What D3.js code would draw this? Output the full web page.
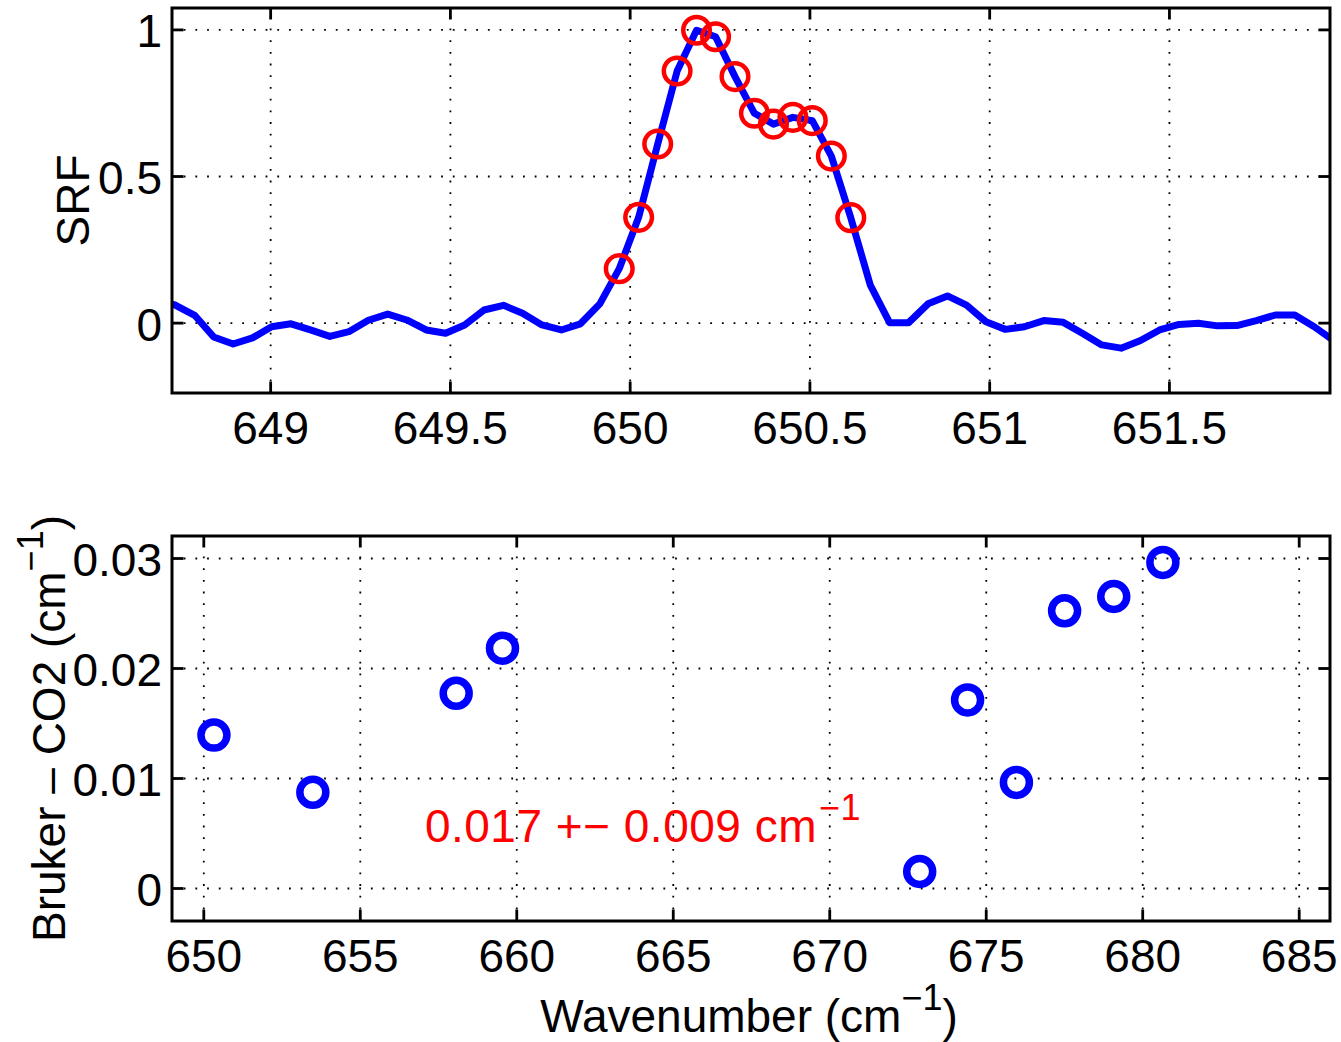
<!DOCTYPE html>
<html>
<head>
<meta charset="utf-8">
<script src="https://cdn.jsdelivr.net/npm/d3@7"></script>
<style>
  html, body { margin: 0; padding: 0; background: #fff; }
  svg text { font-family: "Liberation Sans", Arial, Helvetica, sans-serif; }
</style>
</head>
<body>
<svg id="chart" width="1341" height="1042"></svg>
<script>
// ---- Spectral response function (top panel) ----
const srfWavenumber = [
  648.682, 648.736, 648.790, 648.843, 648.897, 648.951, 649.004, 649.058, 649.112, 649.166,
  649.219, 649.273, 649.327, 649.380, 649.434, 649.488, 649.541, 649.595, 649.649, 649.702,
  649.756, 649.810, 649.863, 649.917, 649.971, 650.025, 650.078, 650.132, 650.186, 650.239,
  650.293, 650.347, 650.400, 650.454, 650.508, 650.561, 650.615, 650.669, 650.723, 650.776,
  650.830, 650.884, 650.937, 650.991, 651.045, 651.098, 651.152, 651.206, 651.259, 651.313,
  651.367, 651.421, 651.474, 651.528, 651.582, 651.635, 651.689, 651.743, 651.796, 651.850,
  651.904, 651.957
];
const srfValue = [
  0.075, 0.060, 0.025, -0.049, -0.073, -0.052, -0.014, -0.004, -0.025, -0.047,
  -0.031, 0.008, 0.029, 0.009, -0.025, -0.036, -0.008, 0.043, 0.059, 0.032,
  -0.008, -0.025, -0.004, 0.064, 0.184, 0.359, 0.609, 0.858, 0.997, 0.975,
  0.839, 0.714, 0.677, 0.700, 0.689, 0.568, 0.358, 0.129, 0.000, 0.000,
  0.064, 0.091, 0.060, 0.003, -0.023, -0.014, 0.007, 0.001, -0.036, -0.076,
  -0.087, -0.061, -0.025, -0.006, -0.002, -0.011, -0.010, 0.007, 0.026, 0.026,
  -0.014, -0.060
];
// sampled channel points marked with circles
const channelWavenumber = [
  649.971, 650.025, 650.078, 650.132, 650.186, 650.239, 650.293,
  650.347, 650.400, 650.454, 650.508, 650.561, 650.615
];
const channelValue = [
  0.184, 0.359, 0.609, 0.858, 0.997, 0.975, 0.839,
  0.714, 0.677, 0.700, 0.689, 0.568, 0.358
];
const topXTicks = [649, 649.5, 650, 650.5, 651, 651.5];
const topXLabels = ["649", "649.5", "650", "650.5", "651", "651.5"];
const topYTicks = [0, 0.5, 1];
const topYLabels = ["0", "0.5", "1"];

// ---- Bruker minus CO2 line positions (bottom panel) ----
const lineWavenumber = [650.34, 653.50, 658.08, 659.56, 672.89, 674.42, 675.98, 677.52, 679.09, 680.66];
const lineOffset = [0.0139, 0.0087, 0.0177, 0.0218, 0.0015, 0.0171, 0.0096, 0.0252, 0.0265, 0.0296];
const botXTicks = [650, 655, 660, 665, 670, 675, 680, 685];
const botXLabels = ["650", "655", "660", "665", "670", "675", "680", "685"];
const botYTicks = [0, 0.01, 0.02, 0.03];
const botYLabels = ["0", "0.01", "0.02", "0.03"];

const FONT = 46;
const SUP = 36;
const BLUE = "#0000ff";
const RED = "#ff0000";

const svg = d3.select("#chart");
svg.append("rect").attr("width", 1341).attr("height", 1042).attr("fill", "#fff");

const topBox = { left: 172, right: 1330, top: 8, bottom: 393 };
const botBox = { left: 172, right: 1330, top: 536, bottom: 921 };

const xTop = d3.scaleLinear().domain([648.727, 651.948]).range([topBox.left, topBox.right]);
const yTop = d3.scaleLinear().domain([-0.24, 1.073]).range([topBox.bottom, topBox.top]);
const xBot = d3.scaleLinear().domain([649, 686]).range([botBox.left, botBox.right]);
const yBot = d3.scaleLinear().domain([-0.003, 0.032]).range([botBox.bottom, botBox.top]);

function styleAxis(sel) {
  sel.attr("font-size", FONT)
     .attr("font-family", '"Liberation Sans", Arial, Helvetica, sans-serif');
  sel.selectAll(".domain").remove();
  sel.selectAll(".tick line").attr("stroke", "#000").attr("stroke-width", 2.8);
  sel.selectAll(".tick text").attr("fill", "#000");
}

function drawGrid(g, box, x, y, xTicks, yTicks) {
  const h = box.bottom - box.top, w = box.right - box.left;
  const gx = g.append("g").attr("transform", `translate(0,${box.bottom})`)
    .call(d3.axisBottom(x).tickValues(xTicks).tickSize(-h).tickFormat(""));
  const gy = g.append("g").attr("transform", `translate(${box.left},0)`)
    .call(d3.axisLeft(y).tickValues(yTicks).tickSize(-w).tickFormat(""));
  [gx, gy].forEach(s => {
    s.selectAll(".domain").remove();
    s.selectAll(".tick line")
      .attr("stroke", "#000")
      .attr("stroke-width", 1.8)
      .attr("stroke-dasharray", "1.8,9.9");
  });
}

function drawAxes(g, box, x, y, xTicks, xLabels, yTicks, yLabels) {
  const T = 11.5;
  g.append("g").attr("transform", `translate(0,${box.bottom})`)
    .call(d3.axisBottom(x).tickValues(xTicks).tickSizeInner(-T).tickSizeOuter(0)
      .tickPadding(18.5).tickFormat((d, i) => xLabels[i]))
    .call(styleAxis);
  g.append("g").attr("transform", `translate(0,${box.top})`)
    .call(d3.axisTop(x).tickValues(xTicks).tickSizeInner(-T).tickSizeOuter(0).tickFormat(""))
    .call(styleAxis);
  g.append("g").attr("transform", `translate(${box.left},0)`)
    .call(d3.axisLeft(y).tickValues(yTicks).tickSizeInner(-T).tickSizeOuter(0)
      .tickPadding(10).tickFormat((d, i) => yLabels[i]))
    .call(styleAxis)
    .selectAll(".tick text").attr("dy", "0.38em");
  g.append("g").attr("transform", `translate(${box.right},0)`)
    .call(d3.axisRight(y).tickValues(yTicks).tickSizeInner(-T).tickSizeOuter(0).tickFormat(""))
    .call(styleAxis);
  g.append("rect")
    .attr("x", box.left).attr("y", box.top)
    .attr("width", box.right - box.left).attr("height", box.bottom - box.top)
    .attr("fill", "none").attr("stroke", "#000").attr("stroke-width", 3);
}

// ---------- top panel ----------
const gTop = svg.append("g");
drawGrid(gTop, topBox, xTop, yTop, topXTicks, topYTicks);

svg.append("clipPath").attr("id", "clipTop")
  .append("rect")
  .attr("x", topBox.left).attr("y", topBox.top)
  .attr("width", topBox.right - topBox.left).attr("height", topBox.bottom - topBox.top);

const srfLine = d3.line()
  .x((d, i) => xTop(srfWavenumber[i]))
  .y(d => yTop(d));

gTop.append("path")
  .datum(srfValue)
  .attr("clip-path", "url(#clipTop)")
  .attr("d", srfLine)
  .attr("fill", "none")
  .attr("stroke", BLUE)
  .attr("stroke-width", 7)
  .attr("stroke-linejoin", "round");

gTop.append("g").selectAll("circle")
  .data(channelValue)
  .join("circle")
  .attr("cx", (d, i) => xTop(channelWavenumber[i]))
  .attr("cy", d => yTop(d))
  .attr("r", 13.3)
  .attr("fill", "none")
  .attr("stroke", RED)
  .attr("stroke-width", 4.5);

drawAxes(gTop, topBox, xTop, yTop, topXTicks, topXLabels, topYTicks, topYLabels);

gTop.append("text")
  .attr("transform", `translate(89,${(topBox.top + topBox.bottom) / 2}) rotate(-90)`)
  .attr("text-anchor", "middle")
  .attr("font-size", FONT)
  .attr("fill", "#000")
  .text("SRF");

// ---------- bottom panel ----------
const gBot = svg.append("g");
drawGrid(gBot, botBox, xBot, yBot, botXTicks, botYTicks);

gBot.append("g").selectAll("circle")
  .data(lineOffset)
  .join("circle")
  .attr("cx", (d, i) => xBot(lineWavenumber[i]))
  .attr("cy", d => yBot(d))
  .attr("r", 13)
  .attr("fill", "none")
  .attr("stroke", BLUE)
  .attr("stroke-width", 7.5);

// mean and standard deviation of the offsets
const meanOffset = d3.mean(lineOffset);
const sdOffset = d3.deviation(lineOffset);
const fmt = d3.format(".3f");
const stat = gBot.append("text")
  .attr("x", xBot(657.08))
  .attr("y", yBot(0.0042))
  .attr("font-size", FONT)
  .attr("fill", RED)
  .attr("letter-spacing", 0.5);
stat.append("tspan").text(`${fmt(meanOffset)} +\u2212 ${fmt(sdOffset)} cm`);
stat.append("tspan").attr("font-size", SUP).attr("dy", -22).attr("dx", 2).text("\u22121");

drawAxes(gBot, botBox, xBot, yBot, botXTicks, botXLabels, botYTicks, botYLabels);

// axis titles
const xTitle = svg.append("text")
  .attr("x", 749)
  .attr("y", 1032)
  .attr("text-anchor", "middle")
  .attr("font-size", FONT)
  .attr("fill", "#000");
xTitle.append("tspan").text("Wavenumber (cm");
xTitle.append("tspan").attr("font-size", SUP).attr("dy", -22).text("\u22121");
xTitle.append("tspan").attr("dy", 22).text(")");

const yTitle = svg.append("text")
  .attr("transform", `translate(65,${(botBox.top + botBox.bottom) / 2}) rotate(-90)`)
  .attr("text-anchor", "middle")
  .attr("font-size", FONT)
  .attr("fill", "#000");
yTitle.append("tspan").text("Bruker \u2013 CO2 (cm");
yTitle.append("tspan").attr("font-size", SUP).attr("dy", -22).text("\u22121");
yTitle.append("tspan").attr("dy", 22).text(")");
</script>
</body>
</html>
